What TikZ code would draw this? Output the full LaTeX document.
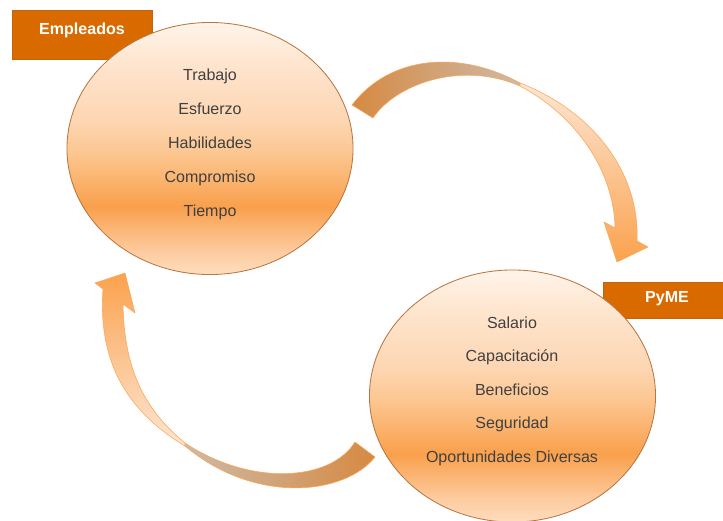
\documentclass[tikz,border=0pt]{standalone}
\usepackage{fontspec}
\setmainfont{Liberation Sans}
\usepackage{tikz}
\usetikzlibrary{shapes.geometric}

\definecolor{ballA}{HTML}{FEDDBE}
\definecolor{ballB}{HTML}{FDCCA0}
\definecolor{ballC}{HTML}{F9A04C}
\definecolor{ballD}{HTML}{FCC690}
\definecolor{ballE}{HTML}{FDD6B2}
\definecolor{ballF}{HTML}{FEE6D0}
\definecolor{ballG}{HTML}{FFF4EA}
\definecolor{ballrim}{HTML}{B97640}
\definecolor{tagfill}{HTML}{D96A00}
\definecolor{tagrim}{HTML}{C4620E}
\definecolor{itemgrey}{HTML}{404040}
\definecolor{tailbrown}{HTML}{D68A42}
\definecolor{tailgrey}{HTML}{CDB9A8}
\definecolor{headlight}{HTML}{FCE6D4}
\definecolor{headmid}{HTML}{FDD3AA}
\definecolor{headorange}{HTML}{FBA24E}
\definecolor{ribbonrim}{HTML}{F8A85A}

\pgfdeclareverticalshading{ballshade}{100bp}{color(0bp)=(ballA); color(25bp)=(ballA); color(29.5bp)=(ballB); color(38.5bp)=(ballC); color(49bp)=(ballD); color(55.5bp)=(ballE); color(67.5bp)=(ballF); color(75bp)=(ballG); color(100bp)=(ballG)}

\begin{document}
\begin{tikzpicture}[x=0.025cm,y=-0.025cm,
		ball/.style={ellipse,draw=ballrim,line width=0.6pt,shade,shading=ballshade,minimum width=7.15cm,minimum height=6.3cm,inner sep=0pt},
		tagbox/.style={draw=tagrim,fill=tagfill,text=white,font=\bfseries\fontsize{11.4}{13}\selectfont,inner sep=0pt,anchor=base},
		item/.style={text=itemgrey,font=\fontsize{11.4}{13}\selectfont,anchor=base},
		ribbon/.style={draw=ribbonrim,line width=0.4pt,line join=round}]
		\useasboundingbox (0,0) rectangle (723,520);
		\node[tagbox,minimum width=3.5cm,text height=0.6cm,text depth=0.625cm] (emptag) at (82,34) {Empleados};
		\node[tagbox,minimum width=3.2cm,text height=0.5cm,text depth=0.4cm] (pymetag) at (667,302) {PyME};
		\node[ball] (emp) at (210,148.5) {};
		\node[ball] (pyme) at (512.5,396) {};
		\foreach \word [count=\i] in {Trabajo,Esfuerzo,Habilidades,Compromiso,Tiempo}
		\node[item] (emp-\i) at (210,46+34*\i) {\word};
		\foreach \word [count=\i] in {Salario,Capacitación,Beneficios,Seguridad,Oportunidades Diversas}
		\node[item] (pyme-\i) at (512,294.5+33.6*\i) {\word};
		\draw[ribbon,left color=tailbrown,right color=tailgrey] (352,105) .. controls (390,55) and (460,50) .. (520,83) -- (520,86) .. controls (460,60) and (395,85) .. (373,118) -- cycle;
		\draw[ribbon,top color=headlight,middle color=headmid,bottom color=headorange] (520,83) .. controls (590,110) and (640,170) .. (637,241) -- (648,247) -- (617,262) -- (604,222) -- (615,228) .. controls (614,170) and (575,115) .. (520,86) -- cycle;
		\draw[ribbon,left color=tailgrey,right color=tailbrown] (375,457) .. controls (345,495) and (255,505) .. (185,446) -- (185,443) .. controls (250,486) and (330,482) .. (355,442) -- cycle;
		\draw[ribbon,bottom color=headlight,middle color=headmid,top color=headorange] (185,446) .. controls (125,410) and (98,360) .. (103,289) -- (95,283) -- (125,273) -- (135,313) -- (123,304) .. controls (124,370) and (145,410) .. (185,443) -- cycle;
\end{tikzpicture}
\end{document}
